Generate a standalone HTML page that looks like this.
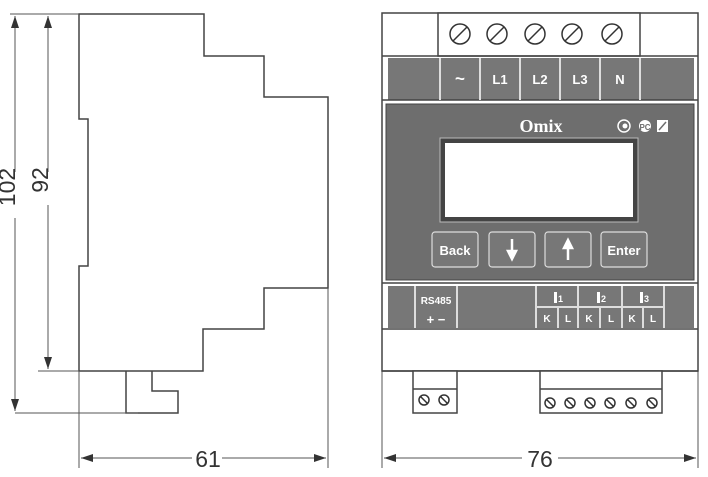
<!DOCTYPE html>
<html><head><meta charset="utf-8"><style>
html,body{margin:0;padding:0;background:#fff}
svg{display:block}
text{font-family:"Liberation Sans",sans-serif}
text.serif{font-family:"Liberation Serif",serif}
</style></head><body>
<svg width="708" height="477" viewBox="0 0 708 477" xmlns="http://www.w3.org/2000/svg">
<defs>
<marker id="a" viewBox="0 0 12 8" refX="12" refY="4" markerWidth="12" markerHeight="8" orient="auto-start-reverse" markerUnits="userSpaceOnUse"><path d="M0,0 L12,4 L0,8 Z" fill="#333"/></marker>
</defs>
<g stroke="#444" stroke-width="1.5" fill="none">
<path d="M79,14 H204 V56 H264 V97 H328 V288 H264 V329 H203 V371 H79 V266 H88 V119 H79 Z"/>
<path d="M126,371 V413 H178 V391 H152 V371"/>
</g>
<g stroke="#555" stroke-width="1" fill="none">
<line x1="15" y1="413" x2="138" y2="413"/>
<line x1="38" y1="371" x2="79" y2="371"/>
<line x1="10" y1="14" x2="79" y2="14"/>
<line x1="79" y1="371" x2="79" y2="468"/>
<line x1="328" y1="288" x2="328" y2="468"/>
<line x1="15" y1="16" x2="15" y2="172" marker-start="url(#a)"/>
<line x1="15" y1="218" x2="15" y2="411" marker-end="url(#a)"/>
<line x1="48" y1="16" x2="48" y2="172" marker-start="url(#a)"/>
<line x1="48" y1="205" x2="48" y2="369" marker-end="url(#a)"/>
<line x1="81" y1="458" x2="192" y2="458" marker-start="url(#a)"/>
<line x1="222" y1="458" x2="326" y2="458" marker-end="url(#a)"/>
<line x1="382" y1="371" x2="382" y2="468"/>
<line x1="698" y1="371" x2="698" y2="468"/>
<line x1="384" y1="458" x2="522" y2="458" marker-start="url(#a)"/>
<line x1="558" y1="458" x2="696" y2="458" marker-end="url(#a)"/>
</g>
<text x="23" y="195" font-size="23" fill="#333" text-anchor="middle" transform="rotate(-90 15 195)">102</text>
<text x="56" y="188" font-size="23" fill="#333" text-anchor="middle" transform="rotate(-90 48 188)">92</text>
<text x="208" y="467" font-size="23" fill="#333" text-anchor="middle">61</text>
<text x="540" y="467" font-size="23" fill="#333" text-anchor="middle">76</text>

<rect x="382" y="13" width="316" height="358" fill="#fff" stroke="#444" stroke-width="1.5"/>
<rect x="438" y="13" width="202" height="43" fill="#fff" stroke="#444" stroke-width="1.5"/>
<line x1="382" y1="56" x2="698" y2="56" stroke="#444" stroke-width="1.5"/>
<rect x="388" y="58" width="306" height="42" fill="#777"/>
<line x1="382" y1="100" x2="698" y2="100" stroke="#444" stroke-width="1.5"/>
<g stroke="#ddd" stroke-width="2">
<line x1="440" y1="58" x2="440" y2="100"/><line x1="480" y1="58" x2="480" y2="100"/>
<line x1="520" y1="58" x2="520" y2="100"/><line x1="560" y1="58" x2="560" y2="100"/>
<line x1="600" y1="58" x2="600" y2="100"/><line x1="640" y1="58" x2="640" y2="100"/>
</g>
<g fill="#fff" font-weight="bold" font-size="13" text-anchor="middle">
<text x="460" y="84" font-size="17">~</text><text x="500" y="84">L1</text><text x="540" y="84">L2</text><text x="580" y="84">L3</text><text x="620" y="84">N</text>
</g>
<g stroke="#333" stroke-width="1.5" fill="#fff">
<circle cx="460" cy="34" r="10"/><circle cx="497" cy="34" r="10"/><circle cx="535" cy="34" r="10"/><circle cx="572" cy="34" r="10"/><circle cx="612" cy="34" r="10"/>
</g>
<g stroke="#333" stroke-width="1.5">
<line x1="453" y1="41" x2="467" y2="27"/><line x1="490" y1="41" x2="504" y2="27"/><line x1="528" y1="41" x2="542" y2="27"/><line x1="565" y1="41" x2="579" y2="27"/><line x1="605" y1="41" x2="619" y2="27"/>
</g>
<rect x="386" y="104" width="308" height="176" fill="#6e6e6e" stroke="#444" stroke-width="1"/>
<text class="serif" x="541" y="132" font-weight="bold" font-size="18" fill="#fff" text-anchor="middle">Omix</text>
<circle cx="624" cy="126" r="6" fill="none" stroke="#fff" stroke-width="1.5"/><circle cx="625" cy="126" r="2.5" fill="#fff"/>
<circle cx="645" cy="126" r="6" fill="#fff"/><text x="645" y="130" font-size="8" font-weight="bold" fill="#6e6e6e" text-anchor="middle">PC</text>
<rect x="657" y="120" width="11" height="12" fill="#fff"/><path d="M659,130 L666,122" stroke="#6e6e6e" stroke-width="1.5"/>
<rect x="440" y="138" width="198" height="84" fill="#444" stroke="#bbb" stroke-width="1"/>
<rect x="445" y="143" width="188" height="74" fill="#fff"/>
<g fill="#777" stroke="#ddd" stroke-width="1.2">
<rect x="432" y="232" width="46" height="35" rx="3"/><rect x="489" y="232" width="46" height="35" rx="3"/>
<rect x="545" y="232" width="46" height="35" rx="3"/><rect x="601" y="232" width="46" height="35" rx="3"/>
</g>
<g fill="#fff" font-weight="bold" font-size="13" text-anchor="middle">
<text x="455" y="255">Back</text><text x="624" y="255">Enter</text>
</g>
<path d="M512,239 V255 M508,251 L512,259 L516,251 Z" stroke="#fff" stroke-width="2.5" fill="#fff"/>
<path d="M568,260 V244 M564,248 L568,240 L572,248 Z" stroke="#fff" stroke-width="2.5" fill="#fff"/>
<line x1="382" y1="283" x2="698" y2="283" stroke="#444" stroke-width="1.5"/>
<rect x="388" y="286" width="306" height="42" fill="#777"/>
<line x1="382" y1="329" x2="698" y2="329" stroke="#444" stroke-width="1.5"/>
<g stroke="#ddd" stroke-width="2">
<line x1="415" y1="286" x2="415" y2="328"/><line x1="457" y1="286" x2="457" y2="328"/>
<line x1="536" y1="286" x2="536" y2="328"/><line x1="578" y1="286" x2="578" y2="328"/>
<line x1="622" y1="286" x2="622" y2="328"/><line x1="664" y1="286" x2="664" y2="328"/>
<line x1="558" y1="307" x2="558" y2="328"/><line x1="600" y1="307" x2="600" y2="328"/><line x1="643" y1="307" x2="643" y2="328"/>
<line x1="536" y1="307" x2="664" y2="307"/>
</g>
<g fill="#fff" font-weight="bold" font-size="10" text-anchor="middle">
<text x="436" y="304">RS485</text><text x="436" y="324" font-size="13">+ −</text>
<text x="547" y="322">K</text><text x="568" y="322">L</text><text x="589" y="322">K</text><text x="611" y="322">L</text><text x="632" y="322">K</text><text x="653" y="322">L</text>
</g>
<g fill="#fff"><rect x="554" y="292" width="3" height="11"/><rect x="597" y="292" width="3" height="11"/><rect x="640" y="292" width="3" height="11"/></g>
<g fill="#fff" font-weight="bold" font-size="9"><text x="558" y="302">1</text><text x="601" y="302">2</text><text x="644" y="302">3</text></g>
<line x1="382" y1="371" x2="698" y2="371" stroke="#444" stroke-width="1.5"/>
<g stroke="#444" stroke-width="1.5" fill="#fff">
<rect x="413" y="371" width="44" height="42"/><line x1="413" y1="389" x2="457" y2="389"/>
<rect x="540" y="371" width="122" height="42"/><line x1="540" y1="389" x2="662" y2="389"/>
</g>
<g stroke="#333" stroke-width="1.5" fill="none">
<circle cx="424" cy="400" r="5"/><circle cx="444" cy="400" r="5"/>
<circle cx="550" cy="403" r="5"/><circle cx="570" cy="403" r="5"/><circle cx="590" cy="403" r="5"/><circle cx="610" cy="403" r="5"/><circle cx="631" cy="403" r="5"/><circle cx="652" cy="403" r="5"/>
<path d="M420,396 L428,404 M440,396 L448,404 M546,399 L554,407 M566,399 L574,407 M586,399 L594,407 M606,399 L614,407 M627,399 L635,407 M648,399 L656,407"/>
</g>
</svg>
</body></html>
